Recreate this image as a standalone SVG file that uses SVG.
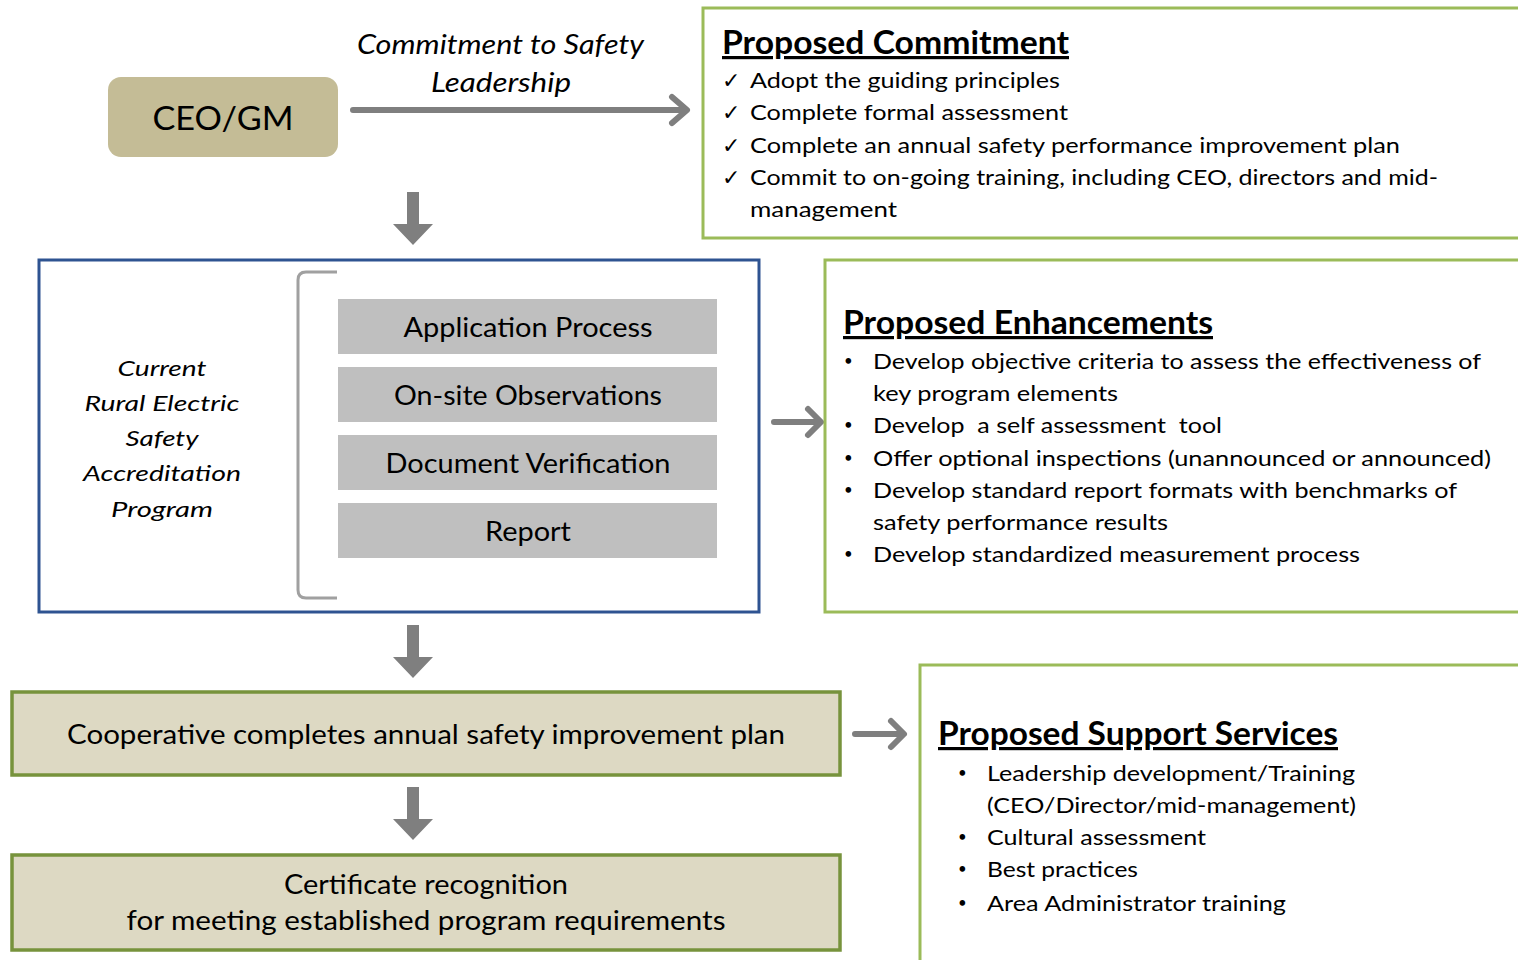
<svg xmlns="http://www.w3.org/2000/svg" width="1518" height="960" viewBox="0 0 1518 960">
<style>
text{font-family:Lato,"Open Sans","Liberation Sans",sans-serif;fill:#000}
.it{font-style:italic}
.t{font-size:22px}
.b{font-size:15px}
.h{font-size:32px;font-weight:bold;text-decoration:underline}
.g{font-size:26px}
.gbox{fill:#bfbfbf}
.green{fill:#fff;stroke:#9bbb59;stroke-width:3}
.olive{fill:#ddd9c3;stroke:#77933c;stroke-width:3.5}
.conn{stroke:#7f7f7f;fill:none;stroke-width:6;stroke-linecap:round;stroke-linejoin:round}
.block{fill:#7f7f7f}
</style>
<rect width="1518" height="960" fill="#fff"/>

<g id="connectors">
  <path class="conn" d="M353 110 H686 M672 97 L687 110 L672 123"/>
  <path class="conn" d="M774 422 H820 M808 409 L821 422 L808 435"/>
  <path class="conn" d="M855 734 H903 M891 721 L904 734 L891 747"/>
  <polygon class="block" points="407,192 419,192 419,224 433,224 413,245 393,224 407,224"/>
  <polygon class="block" points="407,625 419,625 419,657 433,657 413,678 393,657 407,657"/>
  <polygon class="block" points="407,787 419,787 419,819 433,819 413,840 393,819 407,819"/>
  <text class="it" font-size="27" x="357" y="54" textLength="287" lengthAdjust="spacingAndGlyphs">Commitment to Safety</text>
  <text class="it" font-size="27" x="431" y="92" textLength="140" lengthAdjust="spacingAndGlyphs">Leadership</text>
</g>

<g id="ceo">
  <rect x="108" y="77" width="230" height="80" rx="13" fill="#c4bc96"/>
  <text x="223" y="130" font-size="33" text-anchor="middle" textLength="141" lengthAdjust="spacingAndGlyphs">CEO/GM</text>
</g>

<g id="commitment">
  <rect class="green" x="703" y="8" width="830" height="230"/>
  <text class="h" x="722" y="54" textLength="347" lengthAdjust="spacingAndGlyphs">Proposed Commitment</text>
  <g class="t">
    <text x="722" y="88">✓</text><text x="750" y="88" textLength="310" lengthAdjust="spacingAndGlyphs">Adopt the guiding principles</text>
    <text x="722" y="120">✓</text><text x="750" y="120" textLength="318" lengthAdjust="spacingAndGlyphs">Complete formal assessment</text>
    <text x="722" y="153">✓</text><text x="750" y="153" textLength="650" lengthAdjust="spacingAndGlyphs">Complete an annual safety performance improvement plan</text>
    <text x="722" y="185">✓</text><text x="750" y="185" textLength="688" lengthAdjust="spacingAndGlyphs">Commit to on-going training, including CEO, directors and mid-</text>
    <text x="750" y="217" textLength="147" lengthAdjust="spacingAndGlyphs">management</text>
  </g>
</g>

<g id="program">
  <rect x="39" y="260" width="720" height="352" fill="#fff" stroke="#2e5391" stroke-width="3"/>
  <g class="it t" text-anchor="middle">
    <text x="162" y="376" textLength="89" lengthAdjust="spacingAndGlyphs">Current</text>
    <text x="162" y="411" textLength="155" lengthAdjust="spacingAndGlyphs">Rural Electric</text>
    <text x="162" y="446" textLength="73" lengthAdjust="spacingAndGlyphs">Safety</text>
    <text x="162" y="481" textLength="158" lengthAdjust="spacingAndGlyphs">Accreditation</text>
    <text x="162" y="517" textLength="102" lengthAdjust="spacingAndGlyphs">Program</text>
  </g>
  <path d="M337 272 H306 Q298 272 298 280 V590 Q298 598 306 598 H337" fill="none" stroke="#a0a0a0" stroke-width="3"/>
</g>
<g id="app">
  <rect class="gbox" x="338" y="299" width="379" height="55"/>
  <text class="g" x="528" y="337" text-anchor="middle" textLength="249" lengthAdjust="spacingAndGlyphs">Application Process</text>
</g>
<g id="onsite">
  <rect class="gbox" x="338" y="367" width="379" height="55"/>
  <text class="g" x="528" y="405" text-anchor="middle" textLength="268" lengthAdjust="spacingAndGlyphs">On-site Observations</text>
</g>
<g id="docver">
  <rect class="gbox" x="338" y="435" width="379" height="55"/>
  <text class="g" x="528" y="473" text-anchor="middle" textLength="285" lengthAdjust="spacingAndGlyphs">Document Verification</text>
</g>
<g id="report">
  <rect class="gbox" x="338" y="503" width="379" height="55"/>
  <text class="g" x="528" y="541" text-anchor="middle" textLength="86" lengthAdjust="spacingAndGlyphs">Report</text>
</g>

<g id="enhancements">
  <rect class="green" x="825" y="260" width="710" height="352"/>
  <text class="h" x="843" y="334" textLength="370" lengthAdjust="spacingAndGlyphs">Proposed Enhancements</text>
  <g class="t">
    <text class="b" x="844" y="366">•</text><text x="873" y="369" textLength="608" lengthAdjust="spacingAndGlyphs">Develop objective criteria to assess the effectiveness of</text>
    <text x="873" y="401" textLength="245" lengthAdjust="spacingAndGlyphs">key program elements</text>
    <text class="b" x="844" y="430">•</text><text x="873" y="433" textLength="349" lengthAdjust="spacingAndGlyphs" xml:space="preserve">Develop  a self assessment  tool</text>
    <text class="b" x="844" y="463">•</text><text x="873" y="466" textLength="618" lengthAdjust="spacingAndGlyphs">Offer optional inspections (unannounced or announced)</text>
    <text class="b" x="844" y="495">•</text><text x="873" y="498" textLength="584" lengthAdjust="spacingAndGlyphs">Develop standard report formats with benchmarks of</text>
    <text x="873" y="530" textLength="295" lengthAdjust="spacingAndGlyphs">safety performance results</text>
    <text class="b" x="844" y="559">•</text><text x="873" y="562" textLength="487" lengthAdjust="spacingAndGlyphs">Develop standardized measurement process</text>
  </g>
</g>

<g id="coop">
  <rect class="olive" x="12" y="692" width="828" height="83"/>
  <text class="g" x="426" y="744" text-anchor="middle" textLength="718" lengthAdjust="spacingAndGlyphs">Cooperative completes annual safety improvement plan</text>
</g>

<g id="certificate">
  <rect class="olive" x="12" y="855" width="828" height="95"/>
  <text class="g" x="426" y="894" text-anchor="middle" textLength="284" lengthAdjust="spacingAndGlyphs">Certificate recognition</text>
  <text class="g" x="426" y="930" text-anchor="middle" textLength="599" lengthAdjust="spacingAndGlyphs">for meeting established program requirements</text>
</g>

<g id="support">
  <rect class="green" x="920" y="665" width="615" height="310"/>
  <text class="h" x="938" y="745" textLength="400" lengthAdjust="spacingAndGlyphs">Proposed Support Services</text>
  <g class="t">
    <text class="b" x="958" y="778">•</text><text x="987" y="781" textLength="368" lengthAdjust="spacingAndGlyphs">Leadership development/Training</text>
    <text x="987" y="813" textLength="369" lengthAdjust="spacingAndGlyphs">(CEO/Director/mid-management)</text>
    <text class="b" x="958" y="842">•</text><text x="987" y="845" textLength="219" lengthAdjust="spacingAndGlyphs">Cultural assessment</text>
    <text class="b" x="958" y="874">•</text><text x="987" y="877" textLength="151" lengthAdjust="spacingAndGlyphs">Best practices</text>
    <text class="b" x="958" y="908">•</text><text x="987" y="911" textLength="299" lengthAdjust="spacingAndGlyphs">Area Administrator training</text>
  </g>
</g>
</svg>
